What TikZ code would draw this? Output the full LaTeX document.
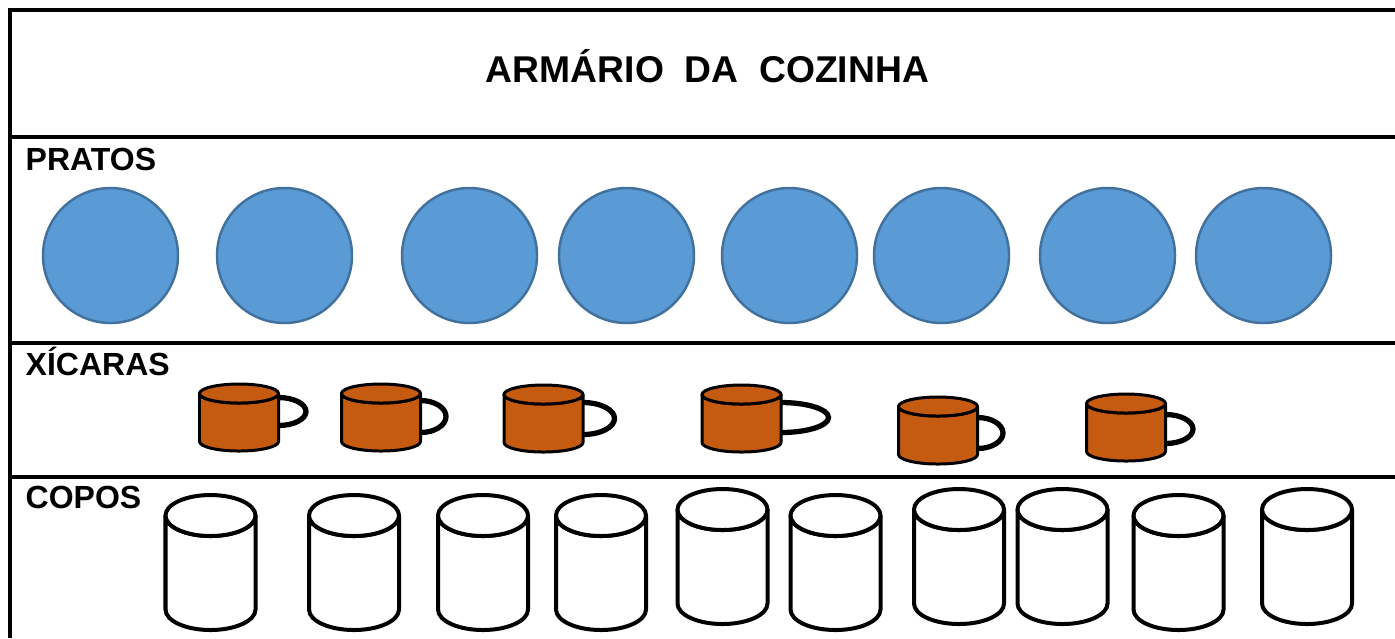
\documentclass[tikz,border=0pt]{standalone}
\usepackage{fontspec}
\setmainfont{Liberation Sans}
\definecolor{platefill}{HTML}{5B9BD5}
\definecolor{plateline}{HTML}{41719C}
\definecolor{cupfill}{HTML}{C55A11}
\tikzset{
  frameline/.style={line width=1.14pt, draw=black},
  plate/.style={fill=platefill, draw=plateline, line width=0.7pt},
  cupbody/.style={fill=cupfill, draw=black, line width=0.85pt, line join=round},
  cuphandle/.style={draw=black, line width=1.5pt},
  glassbody/.style={fill=white, draw=black, line width=1.14pt, line join=round},
  titletext/.style={font=\fontsize{10.6}{12}\selectfont\bfseries, inner sep=0pt, anchor=base},
  shelflabel/.style={font=\fontsize{9.1}{10}\selectfont\bfseries, inner sep=0pt, anchor=base west},
}
% #1 centre x, #2 outer top y, #3 handle reach, #4 handle top offset, #5 handle bottom offset
\newcommand\mycup[5]{%
  \pgfmathsetmacro\cuptc{#2+10.5}%
  \pgfmathsetmacro\cupbc{\cuptc+48}%
  \pgfmathsetmacro\cupR{#1+39.5}%
  \pgfmathsetmacro\cupL{#1-39.5}%
  \pgfmathsetmacro\cuphy{#2+#4+2.5}%
  \pgfmathsetmacro\cuphry{(#5-#4-5)/2}%
  \pgfmathsetmacro\cuphrx{#3-2.5}%
  \draw[cuphandle] (\cupR,\cuphy) arc[start angle=-90, end angle=90, x radius=\cuphrx, y radius=\cuphry];
  \draw[cupbody] (\cupL,\cuptc) -- (\cupL,\cupbc)
    arc[start angle=180, end angle=0, x radius=39.5, y radius=9.5]
    -- (\cupR,\cuptc)
    arc[start angle=0, end angle=180, x radius=39.5, y radius=9.5] -- cycle;
  \draw[cupbody] (#1,\cuptc) ellipse[x radius=39.5, y radius=9.5];
}
% #1 centre x, #2 outer top y
\newcommand\myglass[2]{%
  \pgfmathsetmacro\glasstc{#2+22.5}%
  \pgfmathsetmacro\glassbc{\glasstc+94}%
  \pgfmathsetmacro\glassR{#1+45}%
  \pgfmathsetmacro\glassL{#1-45}%
  \draw[glassbody] (\glassL,\glasstc) -- (\glassL,\glassbc)
    arc[start angle=180, end angle=0, x radius=45, y radius=20.5]
    -- (\glassR,\glasstc)
    arc[start angle=0, end angle=180, x radius=45, y radius=20.5] -- cycle;
  \draw[glassbody] (#1,\glasstc) ellipse[x radius=45, y radius=20.5];
}
\begin{document}
\begin{tikzpicture}[x=0.01cm, y=-0.01cm]
\useasboundingbox (0,0) rectangle (1395,638);
% frame and shelves
\draw[frameline] (10,638) -- (10,10) -- (1395,10);
\draw[frameline] (10,137) -- (1395,137);
\draw[frameline] (10,343) -- (1395,343);
\draw[frameline] (10,477) -- (1395,477);
% texts
\node[titletext] (title) at (707.5,82) {ARMÁRIO\ \ DA\ \ COZINHA};
\node[shelflabel] (pratos) at (25,170) {PRATOS};
\node[shelflabel] (xicaras) at (25,375) {XÍCARAS};
\node[shelflabel] (copos) at (25,508) {COPOS};
% plates
\foreach \px in {110.5,284.5,469.5,626.5,789.5,941.5,1107.5,1263.5}
  \draw[plate] (\px,255.5) circle[radius=67.5];
% cups
\mycup{239}{383}{30}{12}{45}
\mycup{381}{383}{28}{15}{52}
\mycup{543.5}{384}{34}{16}{53}
\mycup{741.5}{384}{50}{16}{51}
\mycup{938}{396}{28}{19}{55}
\mycup{1126}{393}{30}{19}{53}
% glasses
\myglass{210.5}{493}
\myglass{354}{493}
\myglass{483}{493}
\myglass{601}{493}
\myglass{722.5}{487}
\myglass{835.5}{493}
\myglass{959}{487}
\myglass{1062.5}{487}
\myglass{1178.5}{493}
\myglass{1307}{487}
\end{tikzpicture}
\end{document}
